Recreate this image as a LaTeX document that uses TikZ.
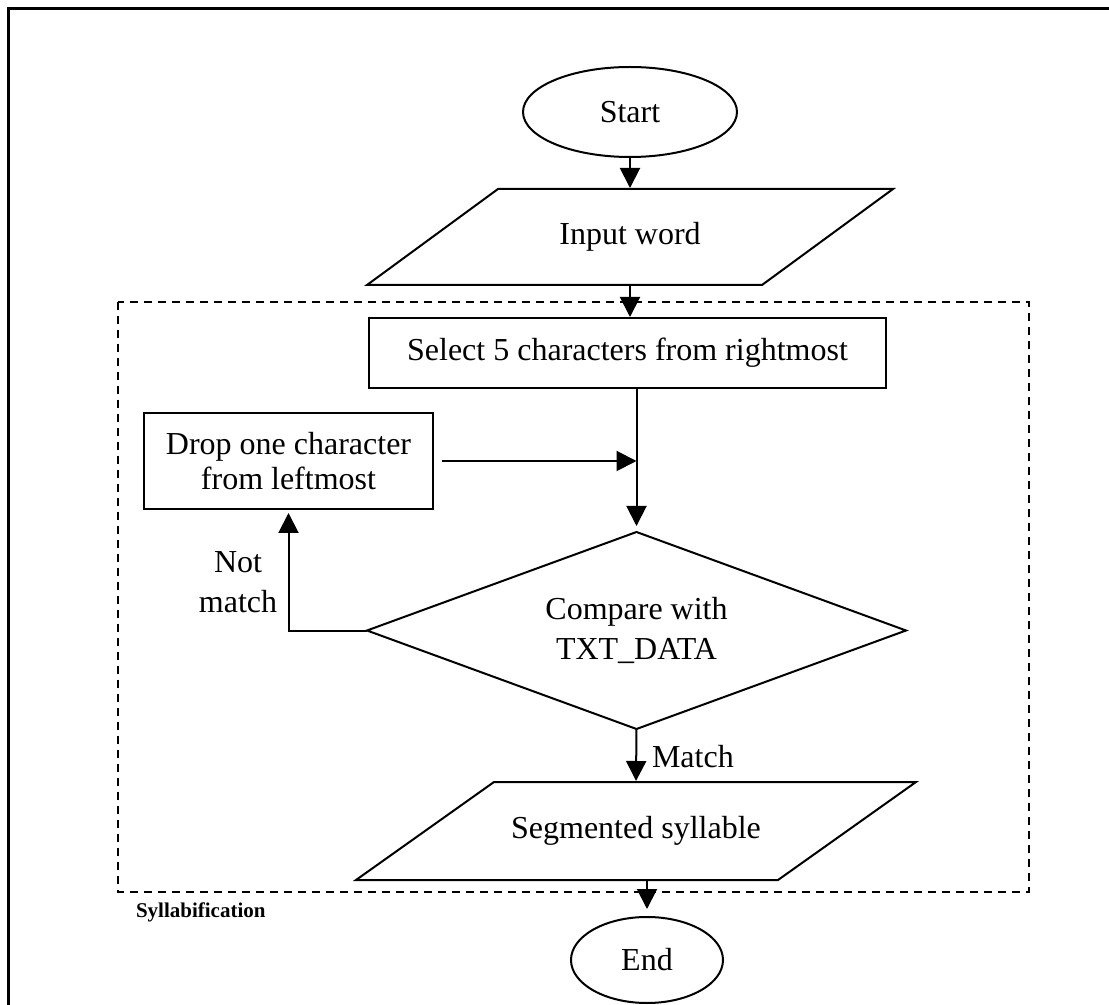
\documentclass[tikz,border=0pt]{standalone}
\usepackage{fontspec}
\setmainfont{Liberation Serif}
\usetikzlibrary{arrows.meta,shapes.geometric,calc}
\begin{document}
\begin{tikzpicture}[x=0.5pt,y=-0.5pt,
  line width=1pt,
  every node/.style={font=\fontsize{16}{19}\selectfont, inner sep=0pt},
  arr/.style={-{Triangle[length=10pt,width=10pt]}},
  terminal/.style={draw, ellipse},
  procbox/.style={draw, rectangle},
  groupframe/.style={dash pattern=on 4pt off 3pt},
]
\useasboundingbox (0,0) rectangle (1109,1005);
\clip (0,0) rectangle (1109,1005);

% page frame
\draw[line width=1.5pt] (8,9) rectangle (1140,1040);

% syllabification group
\draw[groupframe] (118,302) rectangle (1029,892);
\node[anchor=west, font=\fontsize{10.5}{12}\selectfont\bfseries] (grp) at (135,912) {Syllabification};

% nodes
\node[terminal, minimum width=107pt, minimum height=45pt] (start) at (630,112) {Start};

\node[minimum width=100pt, minimum height=48pt] (input) at (630,237) {Input word};
\draw (498,189) -- (893,189) -- (762,285) -- (367,285) -- cycle;

\node[procbox, minimum width=258.5pt, minimum height=35pt] (select) at (627.5,353) {Select 5 characters from rightmost};

\node[procbox, minimum width=144.5pt, minimum height=48pt, align=center,
      font=\fontsize{16}{17.5}\selectfont] (drop) at (288.5,461) {Drop one character\\from leftmost};

\node[minimum width=268.5pt, minimum height=97.5pt, align=center,
      font=\fontsize{16}{20}\selectfont] (cmp) at (636.5,630.5) {Compare with\\TXT\_DATA};
\draw (cmp.north) -- (cmp.east) -- (cmp.south) -- (cmp.west) -- cycle;

\node[minimum width=150pt, minimum height=49pt] (seg) at (636,831) {Segmented syllable};
\draw (494,782) -- (916,782) -- (778,880) -- (356,880) -- cycle;

\node[terminal, minimum width=76pt, minimum height=43pt] (end) at (647,960) {End};

% labels
\node[align=center, font=\fontsize{16}{20}\selectfont] (nm) at (238,582) {Not\\match};
\node[anchor=west] (ml) at (651,757) {Match};

% connectors
\draw[arr] (start) -- (input.north);
\draw[arr] (input.south) -- (input.south |- select.north);
\draw[arr, shorten >=3pt] (select.south -| cmp.north) -- (cmp.north);
\draw[arr] ([xshift=4pt]drop.east) -- (drop.east -| cmp.north);
\draw[arr, shorten >=1.5pt] (cmp.west) -| (drop.south);
\draw[arr] (cmp.south) -- (seg.north);
\draw[arr, shorten >=3.5pt] (seg.south -| end.north) -- (end.north);
\end{tikzpicture}
\end{document}
